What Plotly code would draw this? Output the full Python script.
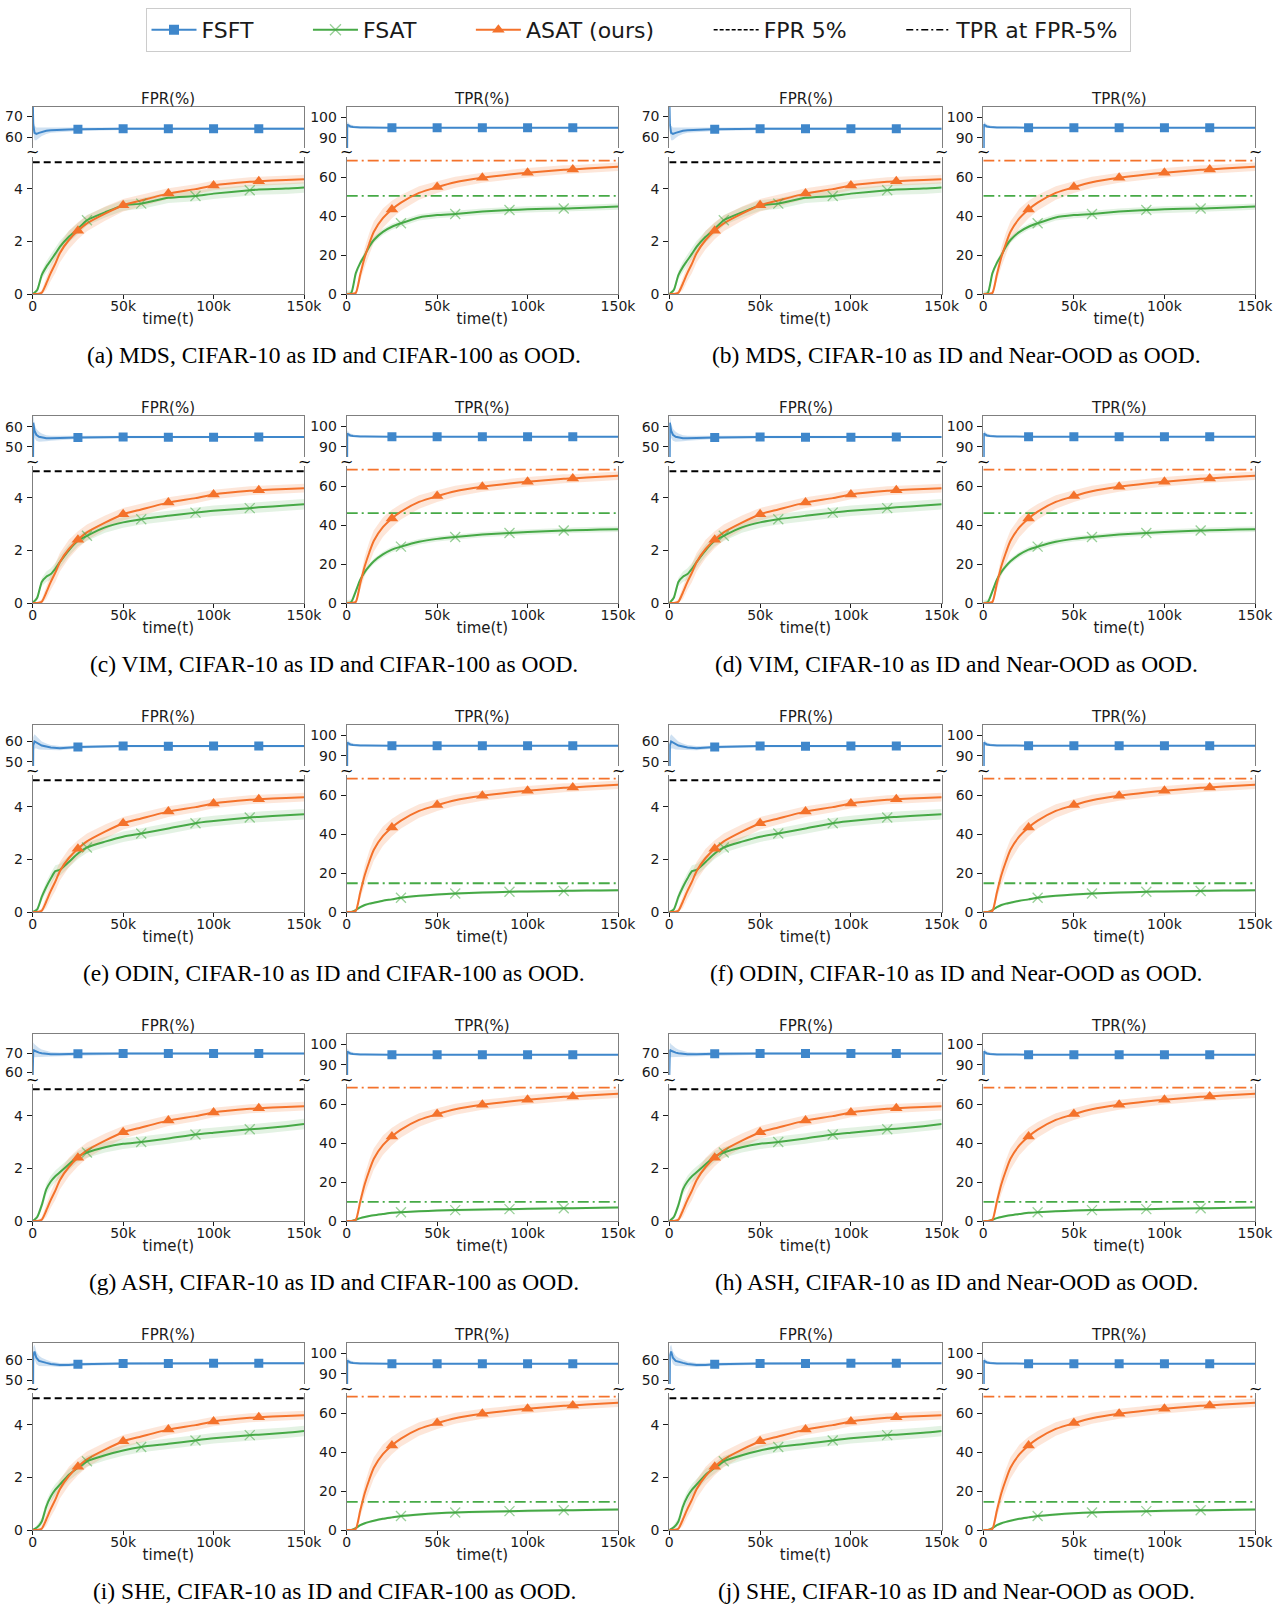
import numpy as np
import plotly.graph_objects as go

W, H = 1276, 1604

# ------------------------------------------------------------------ data
T_K = [0, 2.5, 5, 7.5, 10, 12.5, 15, 20, 25, 30, 40, 50, 60, 75, 90, 100, 120, 125, 140, 150]
T_FSFT_K = [0, 0.3, 1, 2, 3.5, 5, 7.5, 10, 15, 20, 25, 50, 75, 100, 125, 150]

METHODS = ["MDS", "VIM", "ODIN", "ASH", "SHE"]
OOD_SETS = ["CIFAR-100", "Near-OOD"]
LETTERS = list("abcdefghij")

X_TICKS = [0, 50000, 100000, 150000]
X_TICKTEXT = ["0", "50k", "100k", "150k"]

LEGEND_NAMES = ["FSFT", "FSAT", "ASAT (ours)", "FPR 5%", "TPR at FPR-5%"]

# ASAT (ours) - same curves in every sub-figure
ASAT_FPR = [0, 0, 0.05, 0.4, 0.8, 1.15, 1.55, 2.05, 2.4, 2.68, 3.05, 3.37, 3.55, 3.81, 3.98, 4.12, 4.26, 4.28, 4.33, 4.36]
ASAT_FPR_BAND = [0, 0, 0.1, 0.25, 0.3, 0.35, 0.35, 0.35, 0.32, 0.3, 0.27, 0.24, 0.22, 0.2, 0.19, 0.18, 0.17, 0.17, 0.17, 0.17]
ASAT_TPR = [0, 0, 0.5, 10, 19, 26, 32, 39, 43.5, 47, 52, 55, 57.5, 59.8, 61.5, 62.4, 63.9, 64.1, 65, 65.5]
ASAT_TPR_BAND = [0, 0, 1, 3, 5, 5.5, 5.5, 5, 4.5, 4, 3.5, 3, 2.8, 2.6, 2.5, 2.4, 2.3, 2.2, 2.2, 2.2]

# FSAT per method
FSAT_FPR_MDS = [0, 0.15, 0.72, 1.03, 1.28, 1.53, 1.79, 2.17, 2.48, 2.8, 3.1, 3.36, 3.43, 3.65, 3.72, 3.81, 3.94, 3.97, 4.0, 4.04]
FSAT_FPR_VIM = [0, 0.2, 0.8, 1.0, 1.1, 1.3, 1.55, 2.0, 2.36, 2.55, 2.87, 3.06, 3.18, 3.31, 3.43, 3.5, 3.6, 3.63, 3.7, 3.75]
FSAT_FPR_ODIN = [0, 0.1, 0.57, 0.95, 1.27, 1.55, 1.6, 1.9, 2.22, 2.45, 2.67, 2.86, 2.98, 3.17, 3.37, 3.45, 3.59, 3.61, 3.67, 3.71]
FSAT_FPR_ASH = [0, 0.15, 0.6, 1.2, 1.5, 1.7, 1.85, 2.15, 2.45, 2.6, 2.8, 2.93, 3.0, 3.13, 3.28, 3.35, 3.48, 3.5, 3.6, 3.68]
FSAT_FPR_SHE = [0, 0.1, 0.32, 0.89, 1.27, 1.53, 1.72, 2.1, 2.36, 2.61, 2.84, 3.02, 3.15, 3.27, 3.4, 3.48, 3.6, 3.62, 3.69, 3.76]
FSAT_FPR_BAND = [0, 0.1, 0.15, 0.2, 0.22, 0.22, 0.22, 0.22, 0.21, 0.2, 0.2, 0.2, 0.2, 0.2, 0.2, 0.2, 0.2, 0.2, 0.2, 0.2]

FSAT_TPR_MDS = [0, 0.5, 10.6, 16, 20, 24.5, 27.8, 32, 34.6, 36.4, 39.4, 40.6, 41.2, 42.4, 43.2, 43.6, 44.0, 44.1, 44.6, 45]
FSAT_TPR_VIM = [0, 0.5, 6, 12, 16, 19, 21.5, 25, 27.5, 29, 31.5, 33, 34, 35.2, 36, 36.5, 37.3, 37.4, 37.8, 38]
FSAT_TPR_ODIN = [0, 0, 1, 2.5, 3.6, 4.3, 4.8, 5.8, 6.5, 7.3, 8.3, 9, 9.5, 10, 10.4, 10.6, 10.85, 10.9, 11.1, 11.2]
FSAT_TPR_ASH = [0, 0, 0.7, 1.5, 2.1, 2.6, 3.0, 3.6, 4.2, 4.5, 5.0, 5.4, 5.6, 5.9, 6.1, 6.3, 6.55, 6.6, 6.85, 7.0]
FSAT_TPR_SHE = [0, 0, 1, 2.5, 3.5, 4.2, 4.8, 5.8, 6.5, 7.2, 8.0, 8.6, 9.0, 9.4, 9.7, 9.9, 10.15, 10.2, 10.4, 10.5]
FSAT_TPR_BAND_WIDTH = {"MDS": 1.6, "VIM": 1.4, "ODIN": 0.6, "ASH": 0.5, "SHE": 0.6}

# FSFT per method
FSFT_FPR_MDS = [80, 66, 62, 61.5, 62, 62.5, 63, 63.2, 63.5, 63.6, 63.7, 64.0, 63.9, 63.9, 64.0, 64.0]
FSFT_FPR_VIM = [0, 62, 58, 56, 55, 54.6, 54.3, 54.3, 54.5, 54.6, 54.7, 54.9, 54.8, 54.8, 54.9, 54.9]
FSFT_FPR_ODIN = [0, 58, 60, 59.5, 58.5, 58, 57.5, 57, 56.7, 56.9, 57.3, 57.7, 57.6, 57.7, 57.7, 57.7]
FSFT_FPR_ASH = [58, 72, 71.5, 71, 70.5, 70.2, 69.8, 69.6, 69.6, 69.8, 69.9, 70, 70, 70.1, 70.1, 70]
FSFT_FPR_SHE = [0, 62, 64, 61, 59.5, 59, 58.5, 58, 57.5, 57.5, 57.8, 58.2, 58.2, 58.3, 58.3, 58.3]
FSFT_FPR_BAND = [0, 4, 3.5, 3, 2.5, 2, 1.5, 1.2, 1, 0.9, 0.8, 0.6, 0.5, 0.5, 0.5, 0.5]
FSFT_TPR = [0, 96.5, 96, 95.5, 95.3, 95.1, 95, 95, 94.9, 94.9, 94.9, 94.9, 94.9, 94.9, 94.9, 94.9]
FSFT_TPR_BAND = [0, 1.5, 1.2, 1, 0.8, 0.6, 0.5, 0.4, 0.4, 0.3, 0.3, 0.3, 0.3, 0.3, 0.3, 0.3]

FSAT_FPR = {"MDS": FSAT_FPR_MDS, "VIM": FSAT_FPR_VIM, "ODIN": FSAT_FPR_ODIN, "ASH": FSAT_FPR_ASH, "SHE": FSAT_FPR_SHE}
FSAT_TPR = {"MDS": FSAT_TPR_MDS, "VIM": FSAT_TPR_VIM, "ODIN": FSAT_TPR_ODIN, "ASH": FSAT_TPR_ASH, "SHE": FSAT_TPR_SHE}
FSFT_FPR = {"MDS": FSFT_FPR_MDS, "VIM": FSFT_FPR_VIM, "ODIN": FSFT_FPR_ODIN, "ASH": FSFT_FPR_ASH, "SHE": FSFT_FPR_SHE}

FPR_LIMIT = 5.0
ASAT_TPR_AT_FPR5 = 68.6
FSAT_TPR_AT_FPR5 = {"MDS": 50.5, "VIM": 46.2, "ODIN": 14.8, "ASH": 9.8, "SHE": 14.5}

FPR_TOP_RANGE = {"MDS": [54.8, 74.3], "VIM": [45, 65.3], "ODIN": [48, 68], "ASH": [58.5, 80.5], "SHE": [48.2, 68.2]}
FPR_TOP_TICKS = {"MDS": [60, 70], "VIM": [50, 60], "ODIN": [50, 60], "ASH": [60, 70], "SHE": [50, 60]}
TPR_TOP_RANGE = [85, 105]
TPR_TOP_TICKS = [90, 100]
FPR_BOT_RANGE = [0, 5.2]
FPR_BOT_TICKS = [0, 2, 4]
TPR_BOT_RANGE = [0, 70.5]
TPR_BOT_TICKS = [0, 20, 40, 60]

# marker positions (indices into the series)
FSFT_MARK_IDX = [10, 11, 12, 13, 14]
ASAT_MARK_IDX = [8, 11, 13, 15, 17]
FSAT_MARK_IDX = [9, 12, 14, 16]

# ------------------------------------------------------------------ style
BLUE = "#3f87cb"
GREEN = "#46a946"
ORANGE = "#f4722b"
BLUE_BAND = "rgba(63,135,203,0.25)"
GREEN_BAND = "rgba(70,169,70,0.15)"
ORANGE_BAND = "rgba(244,114,43,0.18)"
GREEN_MARK = "rgba(70,169,70,0.55)"
SPINE = "#7f7f7f"
TXT = "#1a1a1a"
SANS = "DejaVu Sans"
SERIF = "Liberation Serif"

COLS_PX = [(32.7, 304.0), (346.7, 618.0), (669.3, 941.7), (983.3, 1255.0)]
TOP_PX = (107, 148)
BOT_PX = (157, 294)
ROW_STEP = 309
TITLE_Y = 99
CAPTION_Y = 355
BREAK_Y = 152
CAPTION_X = [334, 956]
PAD = "\u2003\u2003\u2005"


def xd(a, b):
    return [a / W, b / W]


def yd(a, b):
    return [1 - b / H, 1 - a / H]


t = np.array(T_K) * 1000.0
tf = np.array(T_FSFT_K) * 1000.0

fig = go.Figure()
layout = {}
annotations = []


def add_band(x, y, w, color, xa, ya):
    y = np.asarray(y, float)
    w = np.asarray(w, float)
    up = y + w
    lo = np.maximum(y - w, 0)
    fig.add_trace(go.Scatter(x=np.concatenate([x, x[::-1]]), y=np.concatenate([up, lo[::-1]]),
                             fill="toself", fillcolor=color, line=dict(width=0), mode="lines",
                             hoverinfo="skip", showlegend=False, xaxis=xa, yaxis=ya))


def add_line(x, y, color, xa, ya, width=2, shape="spline", dash="solid"):
    fig.add_trace(go.Scatter(x=x, y=y, mode="lines",
                             line=dict(color=color, width=width, shape=shape, smoothing=0.6, dash=dash),
                             showlegend=False, hoverinfo="skip", xaxis=xa, yaxis=ya))


def add_marks(x, y, idx, symbol, color, size, xa, ya, lw=0, lc=None):
    x = np.asarray(x)
    y = np.asarray(y, float)
    fig.add_trace(go.Scatter(x=x[idx], y=y[idx], mode="markers",
                             marker=dict(symbol=symbol, color=color, size=size,
                                         line=dict(width=lw, color=lc if lc else color)),
                             showlegend=False, hoverinfo="skip", xaxis=xa, yaxis=ya))


def yaxis_common(rng, ticks, dom):
    return dict(domain=dom, range=rng, tickvals=ticks, showline=True, mirror=True,
                linecolor=SPINE, linewidth=1, ticks="outside", ticklen=5, tickcolor=TXT,
                tickwidth=1, showgrid=False, zeroline=False, ticklabelstandoff=1,
                tickfont=dict(family=SANS, size=14, color=TXT))


for s in range(10):
    row, col = divmod(s, 2)
    method = METHODS[row]
    dy = row * ROW_STEP
    for m in (0, 1):
        x0, x1 = COLS_PX[col * 2 + m]
        itop = s * 4 + m * 2 + 1
        ibot = itop + 1
        xt, yt = f"x{itop}", f"y{itop}"
        xb, yb = f"x{ibot}", f"y{ibot}"

        layout[f"xaxis{itop}"] = dict(domain=xd(x0, x1), range=[0, 150000], anchor=yt, side="top",
                                      showline=True, linecolor=SPINE, linewidth=1, ticks="",
                                      showticklabels=False, showgrid=False, zeroline=False)
        layout[f"xaxis{ibot}"] = dict(domain=xd(x0, x1), range=[0, 150000], anchor=yb,
                                      showline=True, linecolor=SPINE, linewidth=1,
                                      ticks="outside", ticklen=4, tickcolor=TXT,
                                      tickvals=X_TICKS, ticktext=X_TICKTEXT, showgrid=False,
                                      zeroline=False, ticklabelstandoff=-5,
                                      tickfont=dict(family=SANS, size=14, color=TXT),
                                      title=dict(text="time(t)", standoff=0,
                                                 font=dict(family=SANS, size=15, color=TXT)))
        top_dom = yd(TOP_PX[0] + dy, TOP_PX[1] + dy)
        bot_dom = yd(BOT_PX[0] + dy, BOT_PX[1] + dy)
        if m == 0:
            layout[f"yaxis{itop}"] = dict(anchor=xt, **yaxis_common(FPR_TOP_RANGE[method], FPR_TOP_TICKS[method], top_dom))
            layout[f"yaxis{ibot}"] = dict(anchor=xb, **yaxis_common(FPR_BOT_RANGE, FPR_BOT_TICKS, bot_dom))
            add_band(tf, FSFT_FPR[method], FSFT_FPR_BAND, BLUE_BAND, xt, yt)
            add_line(tf, FSFT_FPR[method], BLUE, xt, yt, shape="linear")
            add_marks(tf, FSFT_FPR[method], FSFT_MARK_IDX, "square", BLUE, 9, xt, yt)
            add_band(t, FSAT_FPR[method], FSAT_FPR_BAND, GREEN_BAND, xb, yb)
            add_band(t, ASAT_FPR, ASAT_FPR_BAND, ORANGE_BAND, xb, yb)
            add_line([0, 150000], [FPR_LIMIT, FPR_LIMIT], "black", xb, yb, width=2, shape="linear", dash="7px,4px")
            add_line(t, FSAT_FPR[method], GREEN, xb, yb)
            add_line(t, ASAT_FPR, ORANGE, xb, yb)
            add_marks(t, FSAT_FPR[method], FSAT_MARK_IDX, "x-thin", GREEN_MARK, 10, xb, yb, lw=1.3, lc=GREEN_MARK)
            add_marks(t, ASAT_FPR, ASAT_MARK_IDX, "triangle-up", ORANGE, 11, xb, yb)
        else:
            layout[f"yaxis{itop}"] = dict(anchor=xt, **yaxis_common(TPR_TOP_RANGE, TPR_TOP_TICKS, top_dom))
            layout[f"yaxis{ibot}"] = dict(anchor=xb, **yaxis_common(TPR_BOT_RANGE, TPR_BOT_TICKS, bot_dom))
            add_band(tf, FSFT_TPR, FSFT_TPR_BAND, BLUE_BAND, xt, yt)
            add_line(tf, FSFT_TPR, BLUE, xt, yt, shape="linear")
            add_marks(tf, FSFT_TPR, FSFT_MARK_IDX, "square", BLUE, 9, xt, yt)
            add_band(t, FSAT_TPR[method], [FSAT_TPR_BAND_WIDTH[method]] * len(t), GREEN_BAND, xb, yb)
            add_band(t, ASAT_TPR, ASAT_TPR_BAND, ORANGE_BAND, xb, yb)
            add_line([0, 150000], [ASAT_TPR_AT_FPR5] * 2, ORANGE, xb, yb, width=1.8, shape="linear", dash="11px,4px,2px,4px")
            add_line([0, 150000], [FSAT_TPR_AT_FPR5[method]] * 2, GREEN, xb, yb, width=1.8, shape="linear", dash="11px,4px,2px,4px")
            add_line(t, FSAT_TPR[method], GREEN, xb, yb)
            add_line(t, ASAT_TPR, ORANGE, xb, yb)
            add_marks(t, FSAT_TPR[method], FSAT_MARK_IDX, "x-thin", GREEN_MARK, 10, xb, yb, lw=1.3, lc=GREEN_MARK)
            add_marks(t, ASAT_TPR, ASAT_MARK_IDX, "triangle-up", ORANGE, 11, xb, yb)

        annotations.append(dict(text="FPR(%)" if m == 0 else "TPR(%)", x=(x0 + x1) / 2 / W,
                                y=1 - (TITLE_Y + dy) / H, xref="paper", yref="paper", showarrow=False,
                                xanchor="center", yanchor="middle", font=dict(family=SANS, size=15, color=TXT)))
        for xe in (x0, x1):
            annotations.append(dict(text="~", x=xe / W, y=1 - (BREAK_Y + dy) / H, xref="paper", yref="paper",
                                    showarrow=False, xanchor="center", yanchor="middle",
                                    font=dict(family=SANS, size=16, color="black")))
    annotations.append(dict(text=f"({LETTERS[s]}) {method}, CIFAR-10 as ID and {OOD_SETS[col]} as OOD.",
                            x=CAPTION_X[col] / W, y=1 - (CAPTION_Y + dy) / H, xref="paper", yref="paper",
                            showarrow=False, xanchor="center", yanchor="middle",
                            font=dict(family=SERIF, size=23.5, color="black")))

# legend entries
fig.add_trace(go.Scatter(x=[None], y=[None], mode="lines+markers", name=LEGEND_NAMES[0] + PAD,
                         line=dict(color=BLUE, width=2), marker=dict(symbol="square", size=10, color=BLUE)))
fig.add_trace(go.Scatter(x=[None], y=[None], mode="lines+markers", name=LEGEND_NAMES[1] + PAD,
                         line=dict(color=GREEN, width=2),
                         marker=dict(symbol="x-thin", size=11, color=GREEN_MARK, line=dict(width=1.3, color=GREEN_MARK))))
fig.add_trace(go.Scatter(x=[None], y=[None], mode="lines+markers", name=LEGEND_NAMES[2] + PAD,
                         line=dict(color=ORANGE, width=2), marker=dict(symbol="triangle-up", size=11, color=ORANGE)))
fig.add_trace(go.Scatter(x=[None], y=[None], mode="lines", name=LEGEND_NAMES[3] + PAD,
                         line=dict(color="black", width=1.5, dash="4px,2px")))
fig.add_trace(go.Scatter(x=[None], y=[None], mode="lines", name=LEGEND_NAMES[4] + "\u2005",
                         line=dict(color="black", width=1.5, dash="7px,3px,2px,3px")))

fig.update_layout(
    width=W, height=H, margin=dict(l=0, r=0, t=0, b=0, autoexpand=False),
    paper_bgcolor="white", plot_bgcolor="white",
    showlegend=True,
    legend=dict(orientation="h", x=0.5, xanchor="center", y=1 - 8 / H, yanchor="top",
                font=dict(family=SANS, size=22, color=TXT), bordercolor="#cccccc", borderwidth=1,
                bgcolor="white", itemwidth=45),
    annotations=annotations,
    **layout,
)

fig.write_html("out.html", config={"displayModeBar": False},
               post_script="document.body.style.margin='0';document.body.style.overflow='hidden';")
